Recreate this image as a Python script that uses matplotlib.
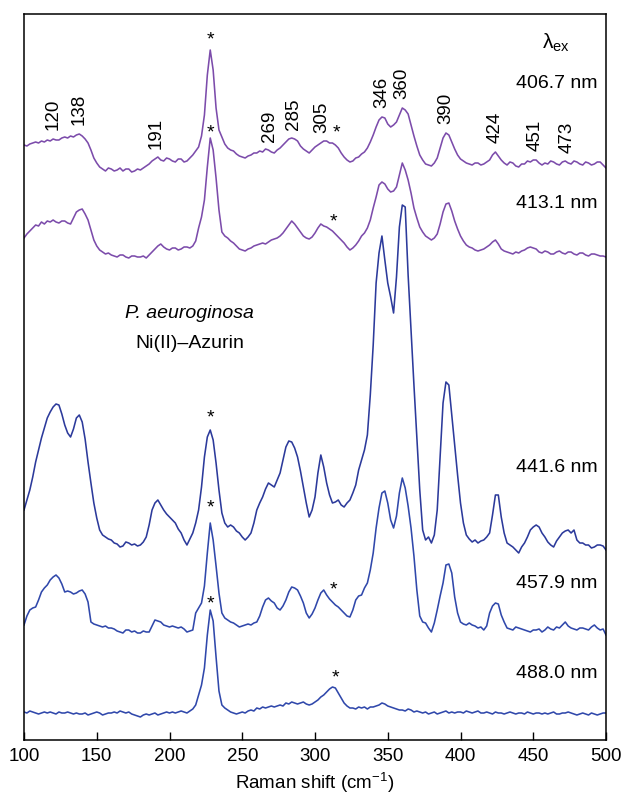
import numpy as np
import matplotlib
matplotlib.use("Agg")
import matplotlib.pyplot as plt

plt.rcParams['font.family'] = ['Liberation Sans', 'DejaVu Sans']
plt.rcParams['mathtext.fontset'] = 'custom'
plt.rcParams['mathtext.rm'] = 'Liberation Sans'
plt.rcParams['mathtext.it'] = 'Liberation Sans:italic'

# Raman shift grid (cm-1), every 2 cm-1 from 100 to 500
shift = np.arange(100, 501, 2)

# Relative intensities (arb. units), one row = 20 cm-1
spec_4067 = [
    25, 24, 26, 27, 28, 27, 29, 28, 30, 29,
    31, 30, 30, 32, 33, 32, 34, 33, 35, 36,
    34, 31, 27, 20, 12, 7, 3, 1, -1, 2,
    1, -1, 0, 2, -1, 1, 1, -2, -1, 1,
    0, 2, 4, 6, 9, 11, 13, 10, 9, 12,
    11, 9, 8, 11, 11, 8, 9, 12, 15, 19,
    23, 34, 55, 95, 120, 100, 62, 40, 33, 26,
    22, 20, 19, 16, 14, 13, 12, 14, 15, 17,
    17, 19, 18, 21, 20, 18, 17, 20, 22, 25,
    28, 31, 32, 31, 29, 24, 21, 19, 17, 20,
    23, 25, 27, 29, 29, 27, 27, 25, 22, 17,
    13, 10, 8, 9, 12, 13, 16, 18, 22, 28,
    35, 43, 50, 53, 52, 46, 43, 45, 48, 55,
    62, 60, 56, 45, 34, 24, 15, 10, 6, 5,
    4, 7, 12, 22, 32, 37, 35, 28, 21, 15,
    11, 9, 7, 6, 5, 7, 7, 5, 6, 8,
    10, 15, 18, 14, 10, 7, 5, 8, 7, 4,
    3, 6, 6, 9, 8, 10, 10, 7, 5, 7,
    6, 9, 8, 6, 5, 8, 9, 7, 6, 9,
    8, 6, 5, 8, 7, 5, 6, 8, 8, 5,
    2,
]

spec_4131 = [
    17, 21, 24, 27, 30, 29, 33, 31, 34, 33,
    35, 33, 32, 34, 34, 32, 31, 37, 43, 45,
    46, 41, 35, 25, 15, 9, 5, 3, 1, 2,
    0, -1, -2, 0, 0, -2, -3, -1, -1, -2,
    -2, -1, -3, 0, 3, 6, 9, 11, 8, 6,
    5, 7, 7, 5, 6, 8, 8, 7, 9, 14,
    27, 38, 55, 88, 117, 105, 77, 45, 23, 19,
    17, 14, 12, 9, 6, 5, 4, 6, 7, 9,
    10, 11, 12, 11, 13, 15, 16, 17, 19, 22,
    26, 30, 34, 31, 27, 23, 19, 17, 16, 18,
    22, 27, 31, 29, 28, 26, 24, 21, 18, 15,
    12, 8, 5, 7, 10, 14, 19, 22, 27, 35,
    47, 58, 70, 73, 71, 66, 63, 64, 68, 80,
    92, 85, 75, 62, 47, 37, 28, 23, 19, 17,
    15, 17, 21, 31, 43, 51, 52, 44, 34, 26,
    19, 14, 10, 8, 7, 5, 4, 5, 6, 8,
    10, 13, 15, 11, 6, 4, 3, 2, 1, 3,
    2, 4, 5, 7, 8, 7, 6, 3, 2, 4,
    3, 1, 1, 3, 4, 2, 1, 3, 3, 1,
    0, 2, 2, 0, -1, 1, 1, 0, -1, -1,
    -2,
]

spec_4416 = [
    35, 45, 55, 68, 83, 95, 107, 117, 127, 133,
    138, 141, 140, 131, 120, 112, 108, 116, 127, 130,
    123, 106, 83, 62, 42, 27, 15, 10, 8, 6,
    5, 2, 1, -2, -1, 3, 2, 0, 1, -1,
    0, 3, 8, 20, 35, 42, 45, 40, 35, 31,
    28, 25, 22, 16, 12, 5, 0, 6, 12, 22,
    35, 58, 88, 108, 115, 105, 82, 55, 32, 22,
    18, 20, 18, 14, 12, 8, 5, 8, 12, 22,
    35, 42, 48, 56, 62, 60, 58, 65, 72, 85,
    98, 104, 103, 97, 88, 74, 58, 42, 28, 35,
    48, 72, 90, 78, 62, 50, 42, 43, 45, 40,
    38, 42, 45, 52, 60, 75, 85, 95, 110, 150,
    200, 262, 292, 309, 285, 262, 248, 232, 268, 318,
    340, 338, 270, 215, 160, 108, 55, 15, 5, 8,
    2, 10, 35, 88, 142, 163, 160, 130, 100, 70,
    42, 22, 10, 6, 3, 5, 2, 4, 5, 8,
    12, 30, 50, 50, 28, 12, 2, 0, -2, -5,
    -8, -2, 2, 8, 15, 18, 20, 18, 12, 8,
    3, 0, -2, 4, 8, 12, 14, 15, 12, 15,
    5, 2, 2, 0, 0, -3, -2, 0, 0, -1,
    -5,
]

spec_4579 = [
    3, 12, 18, 20, 21, 28, 36, 40, 43, 48,
    51, 53, 50, 44, 36, 37, 36, 34, 35, 37,
    38, 34, 26, 6, 4, 3, 2, 1, 2, 0,
    0, -1, -3, -4, -5, -2, -2, -4, -3, -5,
    -5, -3, -4, -4, 2, 8, 7, 6, 3, 2,
    1, 2, 1, 0, 1, -1, -4, -3, -2, 15,
    20, 25, 42, 75, 105, 88, 62, 35, 15, 10,
    8, 6, 5, 3, 1, 2, 3, 4, 3, 5,
    6, 12, 21, 28, 30, 27, 25, 20, 18, 22,
    28, 36, 41, 40, 38, 32, 25, 15, 10, 14,
    20, 28, 35, 38, 33, 29, 26, 23, 21, 18,
    15, 12, 11, 18, 28, 32, 33, 40, 45, 58,
    75, 100, 120, 135, 137, 125, 108, 100, 112, 135,
    150, 140, 122, 100, 72, 38, 12, 6, 5, 0,
    -4, 5, 18, 32, 45, 63, 64, 55, 31, 15,
    6, 4, 3, 5, 3, 2, 0, 1, -2, 2,
    15, 22, 25, 24, 13, 6, 0, -1, -2, 1,
    0, -1, -2, -3, -4, -2, -2, -1, -4, -2,
    1, -1, -2, 1, 0, 3, 6, 2, 0, -1,
    -2, 0, 0, -1, -2, 1, 3, 0, -2, -1,
    -7,
]

spec_4880 = [
    1, 0, 2, 1, 0, -1, 0, 1, 0, 1,
    0, -1, 1, 0, 0, 1, 0, -1, 0, -1,
    -1, 0, -2, -1, 0, 1, 0, -2, -1, 0,
    0, 1, 0, 2, 1, 0, 1, -1, -2, -3,
    -4, -2, -1, -2, -1, 0, -2, -1, 0, 1,
    0, 1, 0, 1, 2, 1, 0, 2, 4, 8,
    18, 28, 45, 78, 103, 92, 56, 22, 8, 5,
    3, 1, 0, -1, 0, 1, 0, 2, 3, 2,
    5, 4, 6, 5, 6, 7, 6, 7, 8, 7,
    10, 9, 11, 10, 9, 10, 11, 9, 8, 9,
    11, 13, 16, 18, 21, 24, 26, 25, 20, 15,
    10, 7, 5, 5, 4, 6, 5, 6, 4, 6,
    6, 7, 8, 10, 9, 7, 6, 5, 4, 3,
    3, 2, 4, 3, 1, 2, 1, 0, 1, -1,
    0, 1, -1, 0, 1, 2, 0, 1, 0, 1,
    1, 0, 2, 1, 0, 1, 2, 0, 0, 1,
    0, -1, 1, 0, 0, -1, 0, 1, 0, -1,
    0, 0, -1, 1, 0, -1, 0, 0, -1, 0,
    -1, 0, 1, -1, -1, 0, 0, 1, 0, -1,
    -2, -1, 0, -1, -2, 0, -1, -2, -1, 0,
    0,
]

wavelengths = ["406.7 nm", "413.1 nm", "441.6 nm", "457.9 nm", "488.0 nm"]
peak_labels = [120, 138, 191, 269, 285, 305, 346, 360, 390, 424, 451, 473]

# layout (plot units = pixels of the original figure)
offsets = [570, 485, 195, 112, 27]
colors = ["#7c4cab", "#7c4cab", "#2c3a9b", "#3048ab", "#3048ab"]
label_y = [657, 536, 273, 156, 66]
star_pos = [(228, 705), (228, 612), (228, 327), (228, 237), (228, 141),
            (315, 612), (313, 523), (313, 155), (314, 67)]


def draw_spectra(ax, spectra):
    for spec, off, col in zip(spectra, offsets, colors):
        ax.plot(shift, np.array(spec) + off, color=col, lw=1.15)


def annotate(ax, top):
    # peak positions over the top trace
    for p in peak_labels:
        y = offsets[0] + np.interp(p, shift, top) + 9
        ax.text(p, y, str(p), rotation=90, ha='center', va='bottom', fontsize=13.5)
    for (sx, sy) in star_pos:
        ax.text(sx, sy - 5, "*", ha='center', va='center', fontsize=14)
    for wl, y in zip(wavelengths, label_y):
        ax.text(494, y, wl, ha='right', va='center', fontsize=14)
    ax.text(465.5, 697, r"$\mathrm{λ}_{\mathrm{ex}}$", ha='center', va='center', fontsize=15)
    ax.text(214, 427, "P. aeuroginosa", style='italic', ha='center', va='center', fontsize=14)
    ax.text(214, 396, "Ni(II)\u2013Azurin", ha='center', va='center', fontsize=14)


if __name__ == "__main__":
    fig = plt.figure(figsize=(6.24, 7.98), dpi=100)
    ax = fig.add_axes([24 / 624, 58 / 798, 582 / 624, 726 / 798])

    spectra = [spec_4067, spec_4131, spec_4416, spec_4579, spec_4880]
    draw_spectra(ax, spectra)
    annotate(ax, spec_4067)

    ax.set_xlim(100, 500)
    ax.set_ylim(0, 726)
    ax.set_yticks([])
    ax.set_xticks(range(100, 501, 50))
    ax.tick_params(axis='x', direction='in', length=6, width=1, labelsize=13.5, pad=6)
    for s in ax.spines.values():
        s.set_linewidth(1.1)
    ax.set_xlabel(r"Raman shift (cm$^{-1}$)", fontsize=13.5, labelpad=4)

    fig.savefig("out.png", dpi=100)
